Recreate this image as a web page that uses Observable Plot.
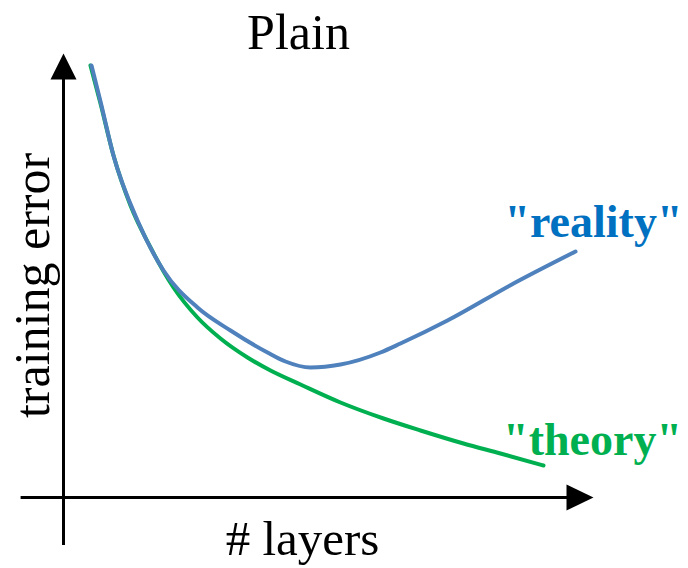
<!DOCTYPE html>
<html>
<head>
<meta charset="utf-8">
<script src="https://cdn.jsdelivr.net/npm/d3@7"></script>
<script src="https://cdn.jsdelivr.net/npm/@observablehq/plot@0.6"></script>
<style>
  html, body { margin: 0; padding: 0; background: #fff; }
</style>
</head>
<body>
<div id="chart"></div>
<script>
// Curve samples (x: # layers, y: training error, arbitrary units 0–100)
const layersReality = [5.28, 6.98, 9.43, 13.96, 18.87, 25.28, 31.51, 38.49, 41.89, 46.60, 52.26, 59.81, 63.58, 72.45, 84.91, 96.60];
const errorReality  = [97.30, 89.19, 77.03, 62.39, 51.13, 42.79, 37.61, 32.66, 30.63, 29.28, 29.95, 32.66, 34.68, 39.86, 48.20, 55.41];
const layersTheory  = [5.09, 6.98, 9.43, 12.64, 16.42, 20.75, 25.28, 29.62, 34.72, 39.06, 44.72, 52.26, 60.38, 67.36, 75.47, 82.45, 90.57];
const errorTheory   = [97.30, 88.74, 77.03, 65.77, 56.31, 47.30, 40.54, 35.81, 31.53, 28.60, 25.45, 21.40, 17.79, 15.09, 12.16, 9.91, 7.21];

const seriesNames = ["\"reality\"", "\"theory\""];
const titleText = "Plain";
const xLabel = "# layers";
const yLabel = "training error";

const xDomain = [0, 100];
const yDomain = [0, 100];

const reality = layersReality.map((x, i) => ({x, y: errorReality[i]}));
const theory = layersTheory.map((x, i) => ({x, y: errorTheory[i]}));

const arrowRight = {draw(ctx) { ctx.moveTo(0, 0); ctx.lineTo(-27, -13); ctx.lineTo(-27, 13); ctx.closePath(); }};
const arrowUp = {draw(ctx) { ctx.moveTo(0, 0); ctx.lineTo(-13, 26); ctx.lineTo(13, 26); ctx.closePath(); }};

const serif = "'Liberation Serif', Tinos, 'Times New Roman', 'DejaVu Serif', 'Noto Serif', serif";

const chart = Plot.plot({
  width: 688,
  height: 568,
  marginLeft: 63,
  marginRight: 95,
  marginTop: 53,
  marginBottom: 71,
  x: {domain: xDomain, axis: null},
  y: {domain: yDomain, axis: null},
  style: {background: "#fff", overflow: "visible"},
  marks: [
    // axes with arrowheads
    Plot.ruleY([yDomain[0]], {x1: -8, x2: xDomain[1] - 3, stroke: "#000", strokeWidth: 3}),
    Plot.ruleX([xDomain[0]], {y1: -10.8, y2: yDomain[1] - 3, stroke: "#000", strokeWidth: 3}),
    Plot.dot([{x: xDomain[1], y: yDomain[0]}], {x: "x", y: "y", symbol: arrowRight, fill: "#000", stroke: null, r: 5}),
    Plot.dot([{x: xDomain[0], y: yDomain[1]}], {x: "x", y: "y", symbol: arrowUp, fill: "#000", stroke: null, r: 5}),
    // curves
    Plot.line(theory, {x: "x", y: "y", curve: "monotone-x", stroke: "#00b050", strokeWidth: 4}),
    Plot.line(reality, {x: "x", y: "y", curve: "monotone-x", stroke: "#4f81bd", strokeWidth: 4}),
    // series labels near line ends
    Plot.text(reality, Plot.selectLast({x: "x", y: "y", text: () => seriesNames[0], dx: 18, dy: -29,
      fill: "#0070c0", fontSize: 46, fontWeight: "bold"})),
    Plot.text(theory, Plot.selectLast({x: "x", y: "y", text: () => seriesNames[1], dx: 49, dy: -25,
      fill: "#00b050", fontSize: 46, fontWeight: "bold"})),
    // title and axis labels
    Plot.text([titleText], {frameAnchor: "top", textAnchor: "middle", lineAnchor: "middle", dx: -30, dy: -21, fontSize: 50, fill: "#000"}),
    Plot.text([xLabel], {frameAnchor: "bottom", textAnchor: "middle", lineAnchor: "middle", dx: -26, dy: 42, fontSize: 49, fill: "#000"}),
    Plot.text([yLabel], {frameAnchor: "left", textAnchor: "middle", lineAnchor: "middle", dx: -31, dy: 10, rotate: -90, fontSize: 50, fill: "#000"})
  ]
});
chart.style.fontFamily = serif;
d3.select(chart).selectAll("g, text").attr("font-family", null).style("font-family", serif);
document.getElementById("chart").appendChild(chart);
</script>
</body>
</html>
